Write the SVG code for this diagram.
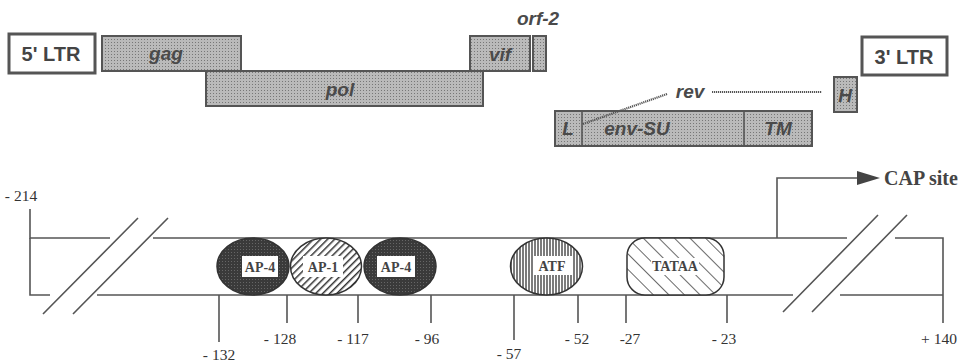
<svg xmlns="http://www.w3.org/2000/svg" width="960" height="364" viewBox="0 0 960 364">
<defs>
<pattern id="stip" width="3" height="3" patternUnits="userSpaceOnUse"><rect width="3" height="3" fill="#bababa"/><rect width="1" height="1" fill="#777"/></pattern>
<pattern id="dark" width="3" height="3" patternUnits="userSpaceOnUse"><rect width="3" height="3" fill="#3a3a3a"/><rect width="1" height="1" fill="#666"/></pattern>
<pattern id="hatchF" width="5" height="5" patternUnits="userSpaceOnUse" patternTransform="rotate(45)"><rect width="5" height="5" fill="#fff"/><line x1="0" y1="0" x2="0" y2="5" stroke="#333" stroke-width="3"/></pattern>
<pattern id="vert" width="3" height="4" patternUnits="userSpaceOnUse"><rect width="3" height="4" fill="#fff"/><line x1="1" y1="0" x2="1" y2="4" stroke="#444" stroke-width="1.4"/></pattern>
<pattern id="hatchB" width="11" height="10" patternUnits="userSpaceOnUse" patternTransform="rotate(-45)"><rect width="11" height="10" fill="#fff"/><line x1="0" y1="0" x2="0" y2="10" stroke="#444" stroke-width="1.6"/></pattern>
</defs>
<style>
.gene{fill:url(#stip);stroke:#555;stroke-width:2}
.ltr{fill:#fff;stroke:#555;stroke-width:3}
.gt{font-family:"Liberation Sans",Arial,sans-serif;font-weight:bold;font-style:italic;font-size:19px;fill:#4a4a4a;text-anchor:middle}
.lt{font-family:"Liberation Sans",Arial,sans-serif;font-weight:bold;font-size:20px;fill:#444;text-anchor:middle}
.ln{stroke:#555;stroke-width:1.6;fill:none}
.num{font-family:"Liberation Serif","Times New Roman",serif;font-size:15.5px;fill:#333;text-anchor:middle}
.lab{font-family:"Liberation Serif","Times New Roman",serif;font-weight:bold;font-size:14px;fill:#444;text-anchor:middle}
.box{fill:#fff}
.dot{stroke:#555;stroke-width:2.2;stroke-dasharray:1.2 0.8;fill:none}
</style>
<g id="ltr5"><rect class="ltr" x="9" y="34" width="86" height="39"/><text class="lt" x="51" y="61">5' LTR</text></g>
<g id="gag"><rect class="gene" x="102" y="36" width="139" height="35"/><text class="gt" x="166" y="60">gag</text></g>
<g id="pol"><rect class="gene" x="206" y="71" width="277" height="35"/><text class="gt" x="340" y="96">pol</text></g>
<g id="vif"><rect class="gene" x="470" y="36" width="60" height="35"/><text class="gt" x="500" y="61">vif</text></g>
<g id="orf2"><rect class="gene" x="533" y="36" width="13" height="35"/><text class="gt" x="538" y="25">orf-2</text></g>
<g id="ltr3"><rect class="ltr" x="862" y="37" width="85" height="38"/><text class="lt" x="904" y="64">3' LTR</text></g>
<g id="H"><rect class="gene" x="834" y="77" width="23" height="35"/><text class="gt" x="845" y="102">H</text></g>
<g id="env"><rect class="gene" x="555" y="111" width="257" height="35"/><line class="ln" x1="582" y1="111" x2="582" y2="146" stroke-width="2"/><line class="ln" x1="744" y1="111" x2="744" y2="146" stroke-width="2"/><text class="gt" x="568" y="135">L</text><text class="gt" x="637" y="135">env-SU</text><text class="gt" x="778" y="135">TM</text></g>
<g id="rev"><text class="gt" x="690" y="98">rev</text></g>
<g id="connectors">
<path class="dot" d="M667 94 L583 124"/>
<path class="dot" d="M712 92 L822 92"/>
<path class="ln" d="M30 209 V238 H110 M153 238 H847 M895 238 H943 V323"/>
<path class="ln" d="M30 238 V295 H50 M97 295 H793 M840 295 H943"/>
<path class="ln" d="M43 314 L138 218 M73 314 L168 218 M783 312 L878 215 M812 312 L907 215"/>
<path class="ln" d="M219 295 V342 M287 295 V323 M358 295 V323 M431 295 V323 M514 295 V340 M578 295 V323 M626 295 V323 M727 295 V323"/>
<path class="ln" d="M777 238 V178 H862"/>
<path d="M857 171 L880 178 L857 185 Z" fill="#444"/>
</g>
<g id="ap4a"><ellipse cx="253" cy="266.5" rx="36" ry="28.5" fill="url(#dark)" stroke="#333" stroke-width="1.5"/><rect class="box" x="242" y="256" width="36" height="21"/><text class="lab" x="260" y="272">AP-4</text></g>
<g id="ap1"><ellipse cx="326" cy="266.5" rx="35.5" ry="28.5" fill="url(#hatchF)" stroke="#333" stroke-width="1.5"/><rect class="box" x="303" y="256" width="40" height="21"/><text class="lab" x="323" y="272">AP-1</text></g>
<g id="ap4b"><ellipse cx="400" cy="266.5" rx="36" ry="28.5" fill="url(#dark)" stroke="#333" stroke-width="1.5"/><rect class="box" x="377" y="256" width="38" height="21"/><text class="lab" x="396" y="272">AP-4</text></g>
<g id="atf"><ellipse cx="546.5" cy="266.5" rx="36" ry="28.5" fill="url(#vert)" stroke="#333" stroke-width="1.5"/><rect class="box" x="533" y="256" width="39" height="19"/><text class="lab" x="552" y="271" font-size="13">ATF</text></g>
<g id="tataa"><rect x="627" y="238" width="97" height="57" rx="18" fill="url(#hatchB)" stroke="#333" stroke-width="1.5"/><rect class="box" x="651" y="258" width="48" height="17"/><text class="lab" x="675" y="271" font-size="13" font-weight="normal">TATAA</text></g>
<g id="labels">
<text class="num" x="21" y="201">- 214</text>
<text class="num" x="219" y="360">- 132</text>
<text class="num" x="280" y="344">- 128</text>
<text class="num" x="353" y="344">- 117</text>
<text class="num" x="427" y="344">- 96</text>
<text class="num" x="509" y="359">- 57</text>
<text class="num" x="577" y="344">- 52</text>
<text class="num" x="630" y="344">-27</text>
<text class="num" x="724" y="344">- 23</text>
<text class="num" x="939" y="344">+ 140</text>
<text x="884" y="185" font-family="'Liberation Serif','Times New Roman',serif" font-weight="bold" font-size="20" fill="#444">CAP site</text>
</g>
</svg>
